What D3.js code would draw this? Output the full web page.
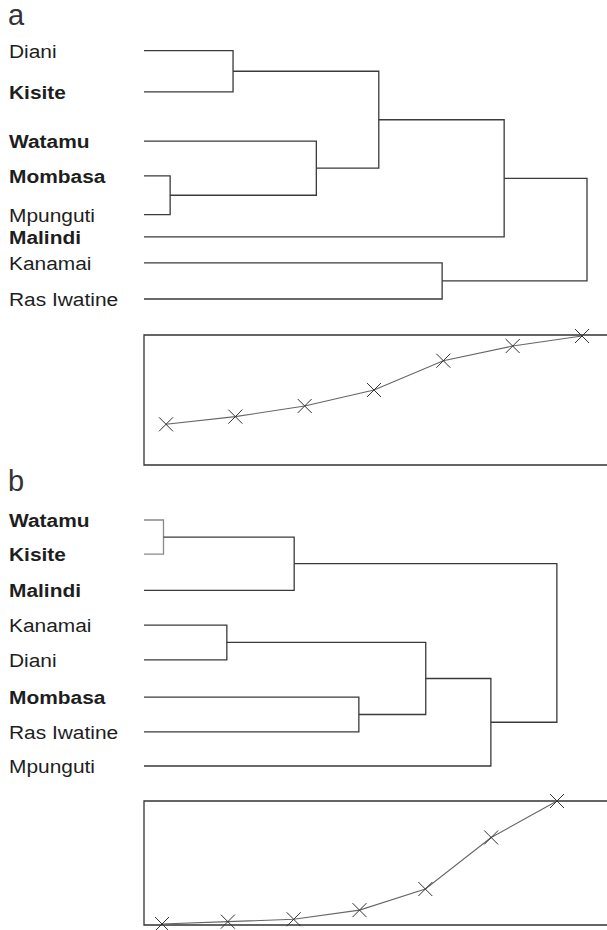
<!DOCTYPE html>
<html>
<head>
<meta charset="utf-8">
<script src="https://cdn.jsdelivr.net/npm/d3@7"></script>
<style>
  body { margin: 0; background: #fff; }
  text { font-family: "Liberation Sans", Arial, Helvetica, sans-serif; }
</style>
</head>
<body>
<svg id="chart" width="607" height="930"></svg>
<script>
// panel a: leaves, bold flags, row offsets
const leavesA = ["Diani", "Kisite", "Watamu", "Mombasa", "Mpunguti", "Malindi", "Kanamai", "Ras Iwatine"];
const boldA = [false, true, true, true, false, true, false, false];
const rowsA = [0, 1.16, 2.55, 3.53, 4.62, 5.25, 5.98, 7];
// merges: [child, child, height]  L = leaf index, N = earlier merge
const mergesA = [
  ["L0", "L1", 20.1],
  ["L3", "L4", 5.9],
  ["L2", "N1", 38.9],
  ["N0", "N2", 53.0],
  ["N3", "L5", 81.3],
  ["L6", "L7", 67.3],
  ["N4", "N5", 100]
];
const curveA = [0.313, 0.372, 0.454, 0.577, 0.802, 0.915, 0.992];

// panel b
const leavesB = ["Watamu", "Kisite", "Malindi", "Kanamai", "Diani", "Mombasa", "Ras Iwatine", "Mpunguti"];
const boldB = [true, true, true, false, false, true, false, false];
const rowsB = [0, 0.97, 2, 2.99, 3.98, 5.04, 6.03, 7];
const mergesB = [
  ["L0", "L1", 4.4],
  ["N0", "L2", 33.9],
  ["L3", "L4", 18.7],
  ["L5", "L6", 48.5],
  ["N2", "N3", 63.6],
  ["N4", "L7", 78.3],
  ["N1", "N5", 93.2]
];
const greyMergesB = [0];
const curveB = [0.008, 0.027, 0.046, 0.12, 0.29, 0.706, 1.0];

const svg = d3.select("#chart");

// shared horizontal distance scale for both dendrograms
const hx = d3.scaleLinear().domain([0, 100]).range([144, 587]);

function drawDendro(g, leaves, bold, rows, merges, yRange, greyList) {
  const y = d3.scaleLinear().domain([0, 7]).range(yRange);

  // labels (original type is a bit wider than Liberation Sans)
  g.selectAll("text.leaf")
    .data(leaves)
    .enter().append("text")
    .attr("class", "leaf")
    .attr("transform", (d, i) => "translate(9," + (y(rows[i]) + 7) + ") scale(1.1,1)")
    .attr("font-size", 19)
    .attr("font-weight", (d, i) => bold[i] ? "bold" : "normal")
    .attr("fill", "#1e1e1e")
    .text(d => d);

  // figure out position of each node
  const pos = {};
  leaves.forEach((d, i) => { pos["L" + i] = { x: hx(0), y: y(rows[i]) }; });
  merges.forEach((m, i) => {
    const a = pos[m[0]], b = pos[m[1]];
    pos["N" + i] = { x: hx(m[2]), y: (a.y + b.y) / 2 };
  });

  // each merge is a bracket: from child a across, down, back to child b
  merges.forEach((m, i) => {
    const a = pos[m[0]], b = pos[m[1]], X = hx(m[2]);
    const grey = greyList && greyList.indexOf(i) >= 0;
    g.append("path")
      .attr("d", "M" + a.x + "," + a.y + "H" + X + "V" + b.y + "H" + b.x)
      .attr("fill", "none")
      .attr("stroke", grey ? "#8a8a8a" : "#3a3a3a")
      .attr("stroke-width", 1.3);
  });
}

function drawCurve(g, vals, box, xRange) {
  const x = d3.scaleLinear().domain([0, vals.length - 1]).range(xRange);
  const y = d3.scaleLinear().domain([0, 1]).range([box.bottom, box.top]);

  // open-ended box: left, top and bottom edges
  g.append("path")
    .attr("d", "M607," + box.top + "H" + box.left + "V" + box.bottom + "H607")
    .attr("fill", "none")
    .attr("stroke", "#333")
    .attr("stroke-width", 1.3);

  g.append("path")
    .datum(vals)
    .attr("d", d3.line().x((d, i) => x(i)).y(d => y(d)))
    .attr("fill", "none")
    .attr("stroke", "#666")
    .attr("stroke-width", 1.1);

  const s = 7;
  g.selectAll("path.mark")
    .data(vals)
    .enter().append("path")
    .attr("class", "mark")
    .attr("d", (d, i) => {
      const cx = x(i), cy = y(d);
      return "M" + (cx - s) + "," + (cy - s) + "L" + (cx + s) + "," + (cy + s) +
             "M" + (cx - s) + "," + (cy + s) + "L" + (cx + s) + "," + (cy - s);
    })
    .attr("stroke", "#333")
    .attr("stroke-width", 1);
}

// panel letters
svg.append("text").attr("x", 8).attr("y", 25).attr("font-size", 29)
  .attr("fill", "#333").text("a");
svg.append("text").attr("x", 8).attr("y", 491).attr("font-size", 29)
  .attr("fill", "#333").text("b");

drawDendro(svg.append("g"), leavesA, boldA, rowsA, mergesA, [50.7, 299], null);
drawCurve(svg.append("g"), curveA, { left: 144, top: 335, bottom: 465 }, [166, 582]);

drawDendro(svg.append("g"), leavesB, boldB, rowsB, mergesB, [520, 766], greyMergesB);
drawCurve(svg.append("g"), curveB, { left: 144, top: 801, bottom: 925 }, [162, 557]);
</script>
</body>
</html>
